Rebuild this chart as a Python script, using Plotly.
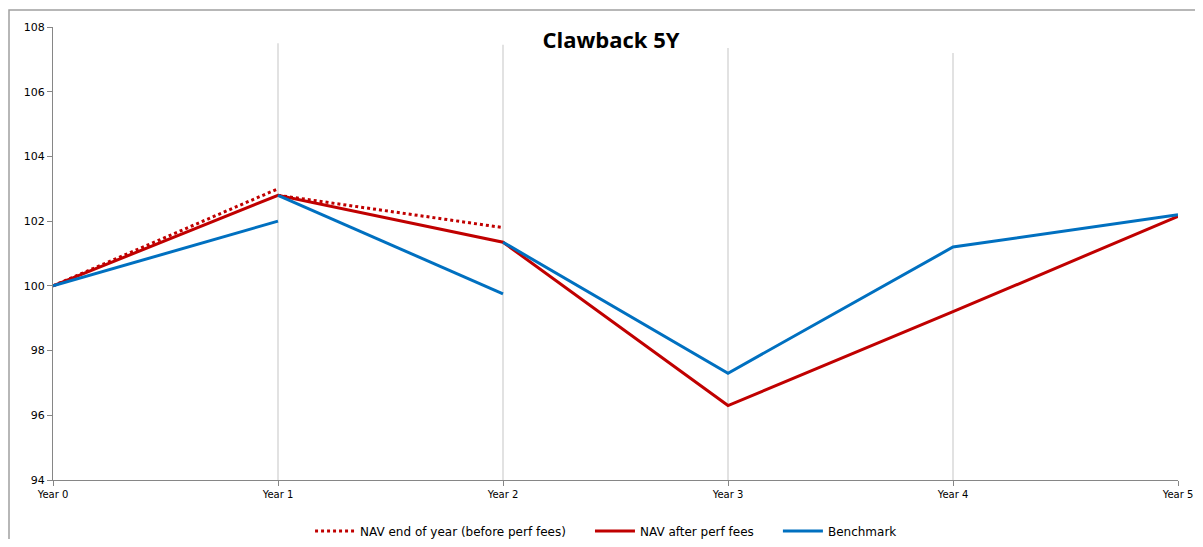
import plotly.graph_objects as go

# ---- data ----
years = ["Year 0", "Year 1", "Year 2", "Year 3", "Year 4", "Year 5"]
y_ticks = [94, 96, 98, 100, 102, 104, 106, 108]

# NAV end of year (before perf fees) - yearly segments
nav_before_seg1_x = ["Year 0", "Year 1"]
nav_before_seg1_y = [100.0, 103.0]
nav_before_seg2_x = ["Year 1", "Year 2"]
nav_before_seg2_y = [102.8, 101.8]

# NAV after perf fees
nav_after_y = [100.0, 102.8, 101.35, 96.3, 99.2, 102.15]

# Benchmark (reset at high-water marks)
bench_seg1_x = ["Year 0", "Year 1"]
bench_seg1_y = [100.0, 102.0]
bench_seg2_x = ["Year 1", "Year 2"]
bench_seg2_y = [102.8, 99.75]
bench_seg3_x = ["Year 2", "Year 3", "Year 4", "Year 5"]
bench_seg3_y = [101.35, 97.3, 101.2, 102.2]

# vertical marker lines (tops)
marker_x = ["Year 1", "Year 2", "Year 3", "Year 4"]
marker_top = [107.5, 107.45, 107.35, 107.2]
y_min = 94

RED = "#C00000"
BLUE = "#0070C0"
GRID = "#D9D9D9"
AXIS = "#868686"
FONT = "DejaVu Sans"
PAD = "\u00a0" * 5

W, H = 1187, 531
L, R, T, B = 45, 17, 19, 59
PW, PH = W - L - R, H - T - B

fig = go.Figure()

for xv, top in zip(marker_x, marker_top):
    fig.add_trace(go.Scatter(x=[xv, xv], y=[y_min, top], mode="lines",
                             line=dict(color=GRID, width=1.5),
                             showlegend=False, hoverinfo="skip"))

fig.add_trace(go.Scatter(x=nav_before_seg1_x, y=nav_before_seg1_y, mode="lines",
                         name="NAV end of year (before perf fees)" + PAD,
                         line=dict(color=RED, width=3, dash="dot"),
                         legendgroup="before"))
fig.add_trace(go.Scatter(x=nav_before_seg2_x, y=nav_before_seg2_y, mode="lines",
                         name="NAV end of year (before perf fees)",
                         line=dict(color=RED, width=3, dash="dot"),
                         legendgroup="before", showlegend=False))

fig.add_trace(go.Scatter(x=years, y=nav_after_y, mode="lines",
                         name="NAV after perf fees" + PAD,
                         line=dict(color=RED, width=3)))

fig.add_trace(go.Scatter(x=bench_seg1_x, y=bench_seg1_y, mode="lines",
                         name="Benchmark", line=dict(color=BLUE, width=3),
                         legendgroup="bench"))
fig.add_trace(go.Scatter(x=bench_seg2_x, y=bench_seg2_y, mode="lines",
                         name="Benchmark", line=dict(color=BLUE, width=3),
                         legendgroup="bench", showlegend=False))
fig.add_trace(go.Scatter(x=bench_seg3_x, y=bench_seg3_y, mode="lines",
                         name="Benchmark", line=dict(color=BLUE, width=3),
                         legendgroup="bench", showlegend=False))

fig.update_layout(
    width=W, height=H,
    margin=dict(l=L, r=R, t=T, b=B, autoexpand=False),
    paper_bgcolor="white", plot_bgcolor="white",
    title=dict(text="<b>Clawback 5Y</b>", xref="paper", x=0.496, xanchor="center",
               yref="container", y=1 - 32 / H, yanchor="middle",
               font=dict(family="Open Sans", size=22, color="black")),
    font=dict(family=FONT, size=10, color="black"),
    showlegend=True,
    legend=dict(orientation="h", x=0.4916, xanchor="center",
                y=-(523 - 472) / PH, yanchor="middle",
                font=dict(family=FONT, size=12, color="black"),
                traceorder="normal", itemwidth=40,
                bgcolor="rgba(0,0,0,0)"),
    shapes=[dict(type="rect", xref="paper", yref="paper",
                 x0=(-L + 1) / PW, x1=1.05, y0=-0.3, y1=1 + (T - 2) / PH,
                 line=dict(color="#A0A0A0", width=1.5), fillcolor="rgba(0,0,0,0)",
                 layer="below")],
)

fig.update_xaxes(type="category", categoryorder="array", categoryarray=years,
                 range=[0, 5], showgrid=False, zeroline=False, automargin=False,
                 showline=True, linecolor=AXIS, linewidth=1,
                 ticks="outside", ticklen=5, tickcolor=AXIS,
                 tickfont=dict(family=FONT, size=10), fixedrange=True)
fig.update_yaxes(range=[94, 108], tickvals=y_ticks, showgrid=False, zeroline=False,
                 automargin=False,
                 showline=True, linecolor=AXIS, linewidth=1,
                 ticks="outside", ticklen=5, tickcolor=AXIS,
                 tickfont=dict(family=FONT, size=11), fixedrange=True)

fig.write_html("out.html")
